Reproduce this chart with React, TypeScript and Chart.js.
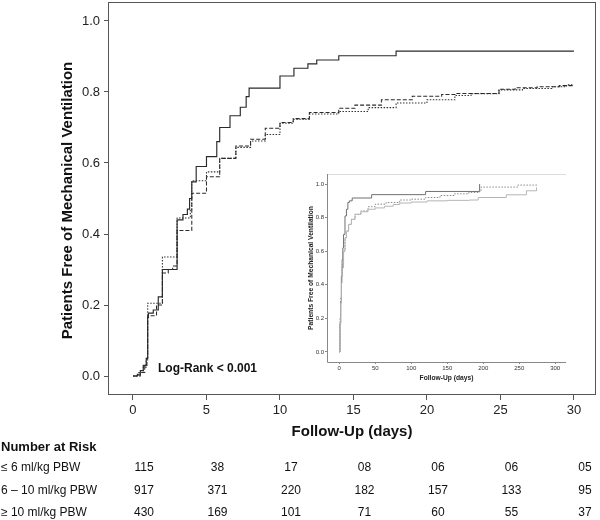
import React, { useEffect, useRef } from "react";
import { Chart, registerables } from "chart.js";

Chart.register(...registerables);

const FONT = '"Liberation Sans", Arial, Helvetica, sans-serif';

// ---- main chart axes ----
const xTickValues = [0, 5, 10, 15, 20, 25, 30];
const yTickValues = [0, 0.2, 0.4, 0.6, 0.8, 1.0];

// ---- main chart curves (days, proportion free of MV) ----
const lowDays = [0, 0.3, 0.5, 0.7, 0.9, 1.0, 1.05, 1.38, 1.72, 2.0, 3.0, 3.4, 3.7, 3.85, 4.0, 4.3, 5.0, 5.7, 5.9, 6.6, 7.3, 7.7, 7.9, 10.0, 10.95, 11.9, 12.5, 14.0, 17.9, 30];
const lowFree = [0, 0.005, 0.015, 0.03, 0.05, 0.165, 0.177, 0.186, 0.223, 0.3, 0.44, 0.455, 0.47, 0.5, 0.547, 0.59, 0.618, 0.66, 0.7, 0.733, 0.757, 0.787, 0.811, 0.845, 0.867, 0.879, 0.89, 0.902, 0.915, 0.915];

const midDays = [0, 0.5, 0.8, 0.95, 1.0, 1.6, 2.0, 2.4, 2.7, 3.0, 4.0, 5.0, 5.9, 7.0, 8.0, 9.0, 10.0, 10.9, 12.0, 14.0, 15.1, 16.9, 19.0, 21.0, 21.9, 24.9, 26.0, 27.5, 29.0, 30];
const midFree = [0, 0.01, 0.03, 0.05, 0.17, 0.2, 0.29, 0.3, 0.31, 0.41, 0.515, 0.561, 0.613, 0.648, 0.667, 0.698, 0.714, 0.725, 0.742, 0.754, 0.763, 0.778, 0.788, 0.793, 0.796, 0.808, 0.812, 0.815, 0.818, 0.82];

const highDays = [0, 0.4, 0.7, 0.9, 1.0, 2.0, 3.0, 3.9, 4.0, 5.0, 5.9, 7.0, 8.0, 9.0, 10.0, 10.9, 12.0, 14.0, 16.0, 17.9, 20.0, 21.9, 23.0, 24.9, 26.5, 28.5, 29.5, 30];
const highFree = [0, 0.01, 0.025, 0.045, 0.205, 0.335, 0.445, 0.47, 0.55, 0.575, 0.613, 0.644, 0.662, 0.68, 0.712, 0.723, 0.738, 0.745, 0.756, 0.769, 0.778, 0.79, 0.795, 0.806, 0.81, 0.815, 0.82, 0.82];

// ---- inset axes ----
const insetXTickValues = [0, 50, 100, 150, 200, 250, 300];
const insetYTickValues = [0, 0.2, 0.4, 0.6, 0.8, 1.0];

// ---- inset curves ----
const insetLowDays = [0, 1, 2, 3, 4, 5, 6, 8, 10, 12, 14, 18, 45, 120, 195];
const insetLowFree = [0, 0.17, 0.3, 0.45, 0.55, 0.62, 0.7, 0.81, 0.85, 0.89, 0.9, 0.917, 0.937, 0.956, 1.0];

const insetMidDays = [0, 1, 2, 3, 4, 6, 8, 10, 13, 17, 22, 30, 40, 50, 65, 84, 100, 120, 140, 160, 180, 195, 197, 248, 275];
const insetMidFree = [0, 0.2, 0.33, 0.44, 0.52, 0.6, 0.68, 0.72, 0.76, 0.79, 0.82, 0.84, 0.865, 0.88, 0.89, 0.905, 0.91, 0.92, 0.932, 0.942, 0.95, 0.956, 0.982, 0.994, 0.994];

const insetHighDays = [0, 1, 2, 3, 4, 6, 8, 10, 13, 17, 22, 30, 40, 50, 63, 75, 84, 100, 122, 150, 181, 193, 232, 260, 274];
const insetHighFree = [0, 0.17, 0.29, 0.41, 0.5, 0.6, 0.68, 0.72, 0.76, 0.79, 0.82, 0.835, 0.85, 0.858, 0.868, 0.878, 0.887, 0.893, 0.9, 0.903, 0.905, 0.92, 0.936, 0.96, 0.98];

// ---- number at risk table ----
const riskLabels = ["≤ 6 ml/kg PBW", "6 – 10 ml/kg PBW", "≥ 10 ml/kg PBW"];
const riskLow = ["115", "38", "17", "08", "06", "06", "05"];
const riskMid = ["917", "371", "220", "182", "157", "133", "95"];
const riskHigh = ["430", "169", "101", "71", "60", "55", "37"];

function pts(days: number[], vals: number[]) {
  return days.map((d, i) => ({ x: d, y: vals[i] }));
}

const mainDecor = {
  id: "mainDecor",
  afterDraw(chart: any) {
    const { ctx, chartArea: a, scales } = chart;
    ctx.save();
    ctx.strokeStyle = "#555";
    ctx.lineWidth = 1;
    ctx.strokeRect(a.left + 0.5, a.top + 0.5, a.right - a.left - 1, a.bottom - a.top - 1);

    ctx.fillStyle = "#111";
    ctx.textBaseline = "middle";
    ctx.textAlign = "center";
    ctx.font = `bold 15px ${FONT}`;
    ctx.save();
    ctx.translate(68, (a.top + a.bottom) / 2 + 2);
    ctx.rotate(-Math.PI / 2);
    ctx.fillText("Patients Free of Mechanical Ventilation", 0, 0);
    ctx.restore();
    ctx.fillText("Follow-Up (days)", (a.left + a.right) / 2, 432);

    ctx.textAlign = "left";
    ctx.font = `bold 12px ${FONT}`;
    ctx.fillText("Log-Rank < 0.001", scales.x.getPixelForValue(1.7), scales.y.getPixelForValue(0.02));

    ctx.font = `bold 13px ${FONT}`;
    ctx.fillText("Number at Risk", 1, 447);

    const rows = [riskLow, riskMid, riskHigh];
    const rowY = [468, 491, 513];
    ctx.font = `12px ${FONT}`;
    rows.forEach((row, r) => {
      ctx.textAlign = "left";
      ctx.fillText(riskLabels[r], 1, rowY[r]);
      ctx.textAlign = "center";
      row.forEach((v, i) => {
        ctx.fillText(v, scales.x.getPixelForValue(xTickValues[i]) + 11, rowY[r]);
      });
    });
    ctx.restore();
  },
};

const insetDecor = {
  id: "insetDecor",
  afterDraw(chart: any) {
    const { ctx, chartArea: a } = chart;
    ctx.save();
    ctx.lineWidth = 1;
    ctx.strokeStyle = "#ddd";
    ctx.beginPath();
    ctx.moveTo(a.left, a.top + 0.5);
    ctx.lineTo(a.right, a.top + 0.5);
    ctx.stroke();
    ctx.strokeStyle = "#888";
    ctx.beginPath();
    ctx.moveTo(a.left + 0.5, a.top);
    ctx.lineTo(a.left + 0.5, a.bottom + 0.5);
    ctx.lineTo(a.right, a.bottom + 0.5);
    ctx.stroke();

    ctx.fillStyle = "#222";
    ctx.textAlign = "center";
    ctx.textBaseline = "middle";
    ctx.font = `bold 6.7px ${FONT}`;
    ctx.fillText("Follow-Up (days)", (a.left + a.right) / 2, 213);
    ctx.translate(11, (a.top + a.bottom) / 2);
    ctx.rotate(-Math.PI / 2);
    ctx.fillText("Patients Free of Mechanical Ventilation", 0, 0);
    ctx.restore();
  },
};

function fitX(h: number) {
  return (s: any) => {
    s.height = h;
    s.paddingLeft = 0;
    s.paddingRight = 0;
  };
}
function fitY(w: number) {
  return (s: any) => {
    s.width = w;
    s.paddingTop = 0;
    s.paddingBottom = 0;
  };
}

export default function App() {
  const mainRef = useRef<HTMLCanvasElement>(null);
  const insetRef = useRef<HTMLCanvasElement>(null);

  useEffect(() => {
    const lineBase = { pointRadius: 0, stepped: true as const, tension: 0, fill: false };
    const main = new Chart(mainRef.current!, {
      type: "line",
      data: {
        datasets: [
          { ...lineBase, data: pts(lowDays, lowFree), borderColor: "#2a2a2a", borderWidth: 1.15 },
          { ...lineBase, data: pts(midDays, midFree), borderColor: "#2a2a2a", borderWidth: 1.05, borderDash: [4, 2] },
          { ...lineBase, data: pts(highDays, highFree), borderColor: "#333", borderWidth: 1.05, borderDash: [1.5, 1.5] },
        ],
      },
      options: {
        responsive: false,
        animation: false,
        layout: { padding: { left: 0, top: 2, right: 4, bottom: 0 } },
        plugins: { legend: { display: false }, tooltip: { enabled: false } },
        scales: {
          x: {
            type: "linear",
            min: -1.7,
            max: 31.5,
            afterBuildTicks: (s: any) => { s.ticks = xTickValues.map((v) => ({ value: v })); },
            afterFit: fitX(125),
            grid: { drawOnChartArea: false, drawTicks: true, tickLength: 5, color: "#555" },
            border: { display: false },
            ticks: { font: { family: FONT, size: 13 }, color: "#222", padding: 3, maxRotation: 0, autoSkip: false, callback: (v: any) => String(v) },
          },
          y: {
            type: "linear",
            min: -0.0535,
            max: 1.0535,
            afterBuildTicks: (s: any) => { s.ticks = yTickValues.map((v) => ({ value: v })); },
            afterFit: fitY(108),
            grid: { drawOnChartArea: false, drawTicks: true, tickLength: 4, color: "#555" },
            border: { display: false },
            ticks: { font: { family: FONT, size: 13 }, color: "#222", padding: 4, autoSkip: false, callback: (v: any) => Number(v).toFixed(1) },
          },
        },
      },
      plugins: [mainDecor],
    } as any);

    const inset = new Chart(insetRef.current!, {
      type: "line",
      data: {
        datasets: [
          { ...lineBase, data: pts(insetHighDays, insetHighFree), borderColor: "#b5b5b5", borderWidth: 1 },
          { ...lineBase, data: pts(insetMidDays, insetMidFree), borderColor: "#8a8a8a", borderWidth: 1, borderDash: [1.5, 1.5] },
          { ...lineBase, data: pts(insetLowDays, insetLowFree), borderColor: "#707070", borderWidth: 1 },
        ],
      },
      options: {
        responsive: false,
        animation: false,
        layout: { padding: { left: 0, top: 9, right: 14, bottom: 0 } },
        plugins: { legend: { display: false }, tooltip: { enabled: false } },
        scales: {
          x: {
            type: "linear",
            min: -17,
            max: 315,
            afterBuildTicks: (s: any) => { s.ticks = insetXTickValues.map((v) => ({ value: v })); },
            afterFit: fitX(28),
            grid: { drawOnChartArea: false, drawTicks: true, tickLength: 2, color: "#888" },
            border: { display: false },
            ticks: { font: { family: FONT, size: 6 }, color: "#333", padding: 1, maxRotation: 0, autoSkip: false, callback: (v: any) => String(v) },
          },
          y: {
            type: "linear",
            min: -0.06,
            max: 1.06,
            afterBuildTicks: (s: any) => { s.ticks = insetYTickValues.map((v) => ({ value: v })); },
            afterFit: fitY(27),
            grid: { drawOnChartArea: false, drawTicks: true, tickLength: 2, color: "#888" },
            border: { display: false },
            ticks: { font: { family: FONT, size: 6 }, color: "#333", padding: 1, autoSkip: false, callback: (v: any) => Number(v).toFixed(1) },
          },
        },
      },
      plugins: [insetDecor],
    } as any);

    return () => {
      main.destroy();
      inset.destroy();
    };
  }, []);

  return (
    <div style={{ position: "absolute", left: 0, top: 0, width: 600, height: 520, background: "#fff" }}>
      <canvas ref={mainRef} width={600} height={520} style={{ position: "absolute", left: 0, top: 0 }} />
      <canvas ref={insetRef} width={280} height={225} style={{ position: "absolute", left: 300, top: 165 }} />
    </div>
  );
}
